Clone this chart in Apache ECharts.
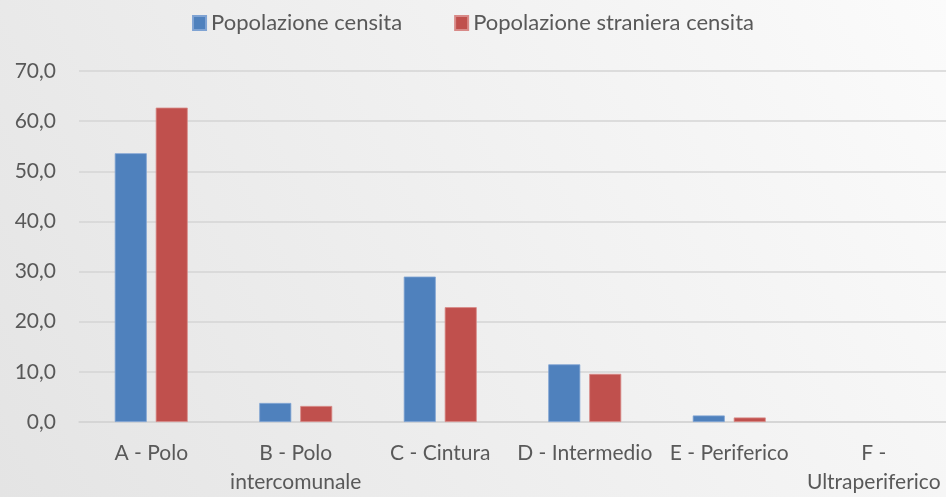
<!DOCTYPE html>
<html>
<head>
<meta charset="utf-8">
<script src="https://cdn.jsdelivr.net/npm/echarts@6/dist/echarts.min.js"></script>
<style>
html,body{margin:0;padding:0;}
#main{width:946px;height:497px;}
</style>
</head>
<body>
<div id="main"></div>
<script>
var categories = ['A - Polo', 'B - Polo\nintercomunale', 'C - Cintura', 'D - Intermedio', 'E - Periferico', 'F -\nUltraperiferico'];
var popCensita = [53.6, 3.8, 29.0, 11.5, 1.3, 0];
var popStraniera = [62.7, 3.2, 22.9, 9.6, 0.9, 0];
var seriesNames = ['Popolazione censita', 'Popolazione straniera censita'];

var chart = echarts.init(document.getElementById('main'));
var txt = '#595959';
var font = 'Lato';
var option = {
	backgroundColor: {
		type: 'linear', x: 0, y: 1, x2: 1, y2: 0,
		colorStops: [{offset: 0, color: '#e4e4e4'}, {offset: 1, color: '#fbfbfb'}]
	},
	animation: false,
	legend: {
		top: 7,
		left: 'center',
		itemWidth: 13,
		itemHeight: 14,
		itemGap: 52,
		icon: 'rect',
		textStyle: {color: txt, fontSize: 22, fontFamily: font},
		data: seriesNames
	},
	grid: {left: 79, right: 0, top: 71, bottom: 72},
	xAxis: {
		type: 'category',
		data: categories,
		axisLine: {lineStyle: {color: '#d4d4d4', width: 1.5}},
		axisTick: {show: false},
		axisLabel: {color: txt, fontSize: 21, fontFamily: font, lineHeight: 29, margin: 17, interval: 0}
	},
	yAxis: {
		type: 'value',
		min: 0, max: 70, interval: 10,
		axisLine: {show: false},
		axisTick: {show: false},
		splitLine: {lineStyle: {color: '#d4d4d4', width: 1.5}},
		axisLabel: {
			color: txt, fontSize: 21, fontFamily: font, margin: 23,
			formatter: function (v) { return v.toFixed(1).replace('.', ','); }
		}
	},
	series: [{
		name: seriesNames[0],
		type: 'bar',
		data: popCensita,
		barWidth: 32,
		barGap: '28%',
		itemStyle: {color: '#4f81bd', borderColor: '#7fa3d3', borderWidth: 0.8}
	}, {
		name: seriesNames[1],
		type: 'bar',
		data: popStraniera,
		barWidth: 32,
		itemStyle: {color: '#c0504d', borderColor: '#d88a88', borderWidth: 0.8}
	}]
};
// niente bordo sulle barre a zero
option.series.forEach(function (s) {
	s.data = s.data.map(function (v) {
		return v === 0 ? {value: v, itemStyle: {borderWidth: 0}} : v;
	});
});
chart.setOption(option);
</script>
</body>
</html>
